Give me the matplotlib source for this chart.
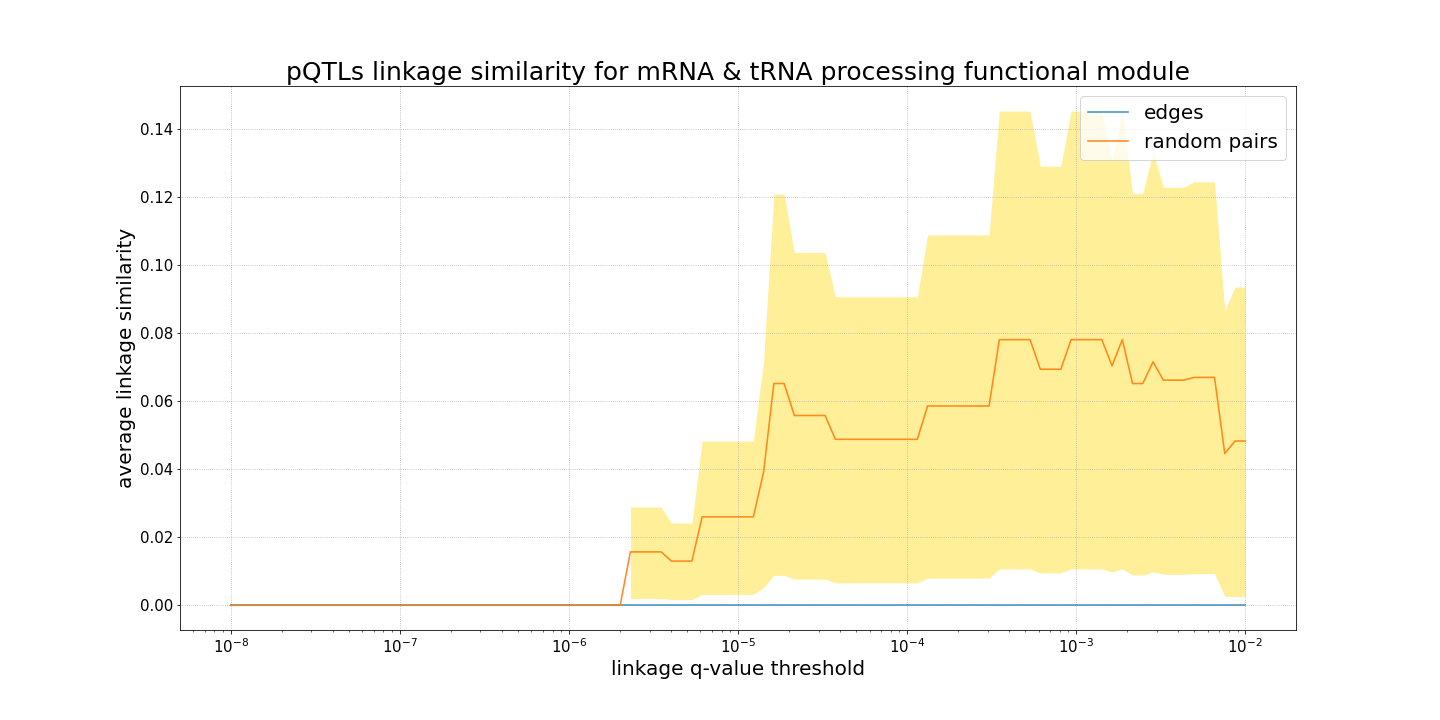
import numpy as np
import matplotlib
matplotlib.use("Agg")
import matplotlib.pyplot as plt

# q-value thresholds (100 log-spaced points from 1e-8 to 1e-2)
thresholds = np.logspace(-8, -2, 100)

n_zero = 39  # indices 0..38 are zero

rand_mean_tail = [
    0.0157, 0.0157, 0.0157, 0.0157,              # 39-42
    0.0130, 0.0130, 0.0130,                      # 43-45
    0.0260, 0.0260, 0.0260, 0.0260, 0.0260, 0.0260,  # 46-51
    0.0392,                                      # 52
    0.0652, 0.0652,                              # 53-54
    0.0558, 0.0558, 0.0558, 0.0558,              # 55-58
    0.0488, 0.0488, 0.0488, 0.0488, 0.0488, 0.0488, 0.0488, 0.0488, 0.0488,  # 59-67
    0.0586, 0.0586, 0.0586, 0.0586, 0.0586, 0.0586, 0.0586,  # 68-74
    0.0781, 0.0781, 0.0781, 0.0781,              # 75-78
    0.0694, 0.0694, 0.0694,                      # 79-81
    0.0781, 0.0781, 0.0781, 0.0781,              # 82-85
    0.0704,                                      # 86
    0.0781,                                      # 87
    0.0652, 0.0652,                              # 88-89
    0.0716,                                      # 90
    0.0662, 0.0662, 0.0662,                      # 91-93
    0.0670, 0.0670, 0.0670,                      # 94-96
    0.0446,                                      # 97
    0.0483, 0.0483,                              # 98-99
]

rand_upper_tail = [
    0.0289, 0.0289, 0.0289, 0.0289,
    0.0242, 0.0242, 0.0242,
    0.0483, 0.0483, 0.0483, 0.0483, 0.0483, 0.0483,
    0.0720,
    0.1209, 0.1209,
    0.1037, 0.1037, 0.1037, 0.1037,
    0.0907, 0.0907, 0.0907, 0.0907, 0.0907, 0.0907, 0.0907, 0.0907, 0.0907,
    0.1089, 0.1089, 0.1089, 0.1089, 0.1089, 0.1089, 0.1089,
    0.1453, 0.1453, 0.1453, 0.1453,
    0.1291, 0.1291, 0.1291,
    0.1453, 0.1453, 0.1453, 0.1453,
    0.1309,
    0.1453,
    0.1211, 0.1211,
    0.1333,
    0.1229, 0.1229, 0.1229,
    0.1245, 0.1245, 0.1245,
    0.0866,
    0.0936, 0.0936,
]

rand_lower_tail = [
    0.0020, 0.0020, 0.0020, 0.0020,
    0.0017, 0.0017, 0.0017,
    0.0032, 0.0032, 0.0032, 0.0032, 0.0032, 0.0032,
    0.0052,
    0.0088, 0.0088,
    0.0077, 0.0077, 0.0077, 0.0077,
    0.0066, 0.0066, 0.0066, 0.0066, 0.0066, 0.0066, 0.0066, 0.0066, 0.0066,
    0.0080, 0.0080, 0.0080, 0.0080, 0.0080, 0.0080, 0.0080,
    0.0107, 0.0107, 0.0107, 0.0107,
    0.0095, 0.0095, 0.0095,
    0.0107, 0.0107, 0.0107, 0.0107,
    0.0098,
    0.0107,
    0.0089, 0.0089,
    0.0098,
    0.0091, 0.0091, 0.0091,
    0.0093, 0.0093, 0.0093,
    0.0026,
    0.0026, 0.0026,
]

edges_mean = [0.0] * 100
rand_mean = [0.0] * n_zero + rand_mean_tail
rand_upper = [np.nan] * n_zero + rand_upper_tail
rand_lower = [np.nan] * n_zero + rand_lower_tail

fig = plt.figure(figsize=(20, 10), dpi=72)
ax = fig.add_axes([0.125, 0.125, 0.775, 0.755])

ax.plot(thresholds, edges_mean, color="#1f77b4", alpha=0.8, label="edges", lw=1.6)
ax.plot(thresholds, rand_mean, color="#ff7f0e", alpha=0.9, label="random pairs", lw=1.6)
ax.fill_between(thresholds, rand_lower, rand_upper, color="gold", alpha=0.4, lw=0)

ax.set_xscale("log")
ax.grid(True, linestyle=":", color="#b0b0b0", lw=0.8)
ax.set_title("pQTLs linkage similarity for mRNA & tRNA processing functional module", fontsize=25)
ax.set_xlabel("linkage q-value threshold", fontsize=20)
ax.set_ylabel("average linkage similarity", fontsize=20)
ax.tick_params(axis="both", which="major", labelsize=15)
ax.legend(loc="upper right", fontsize=20)

fig.savefig("out.png", dpi=72)
